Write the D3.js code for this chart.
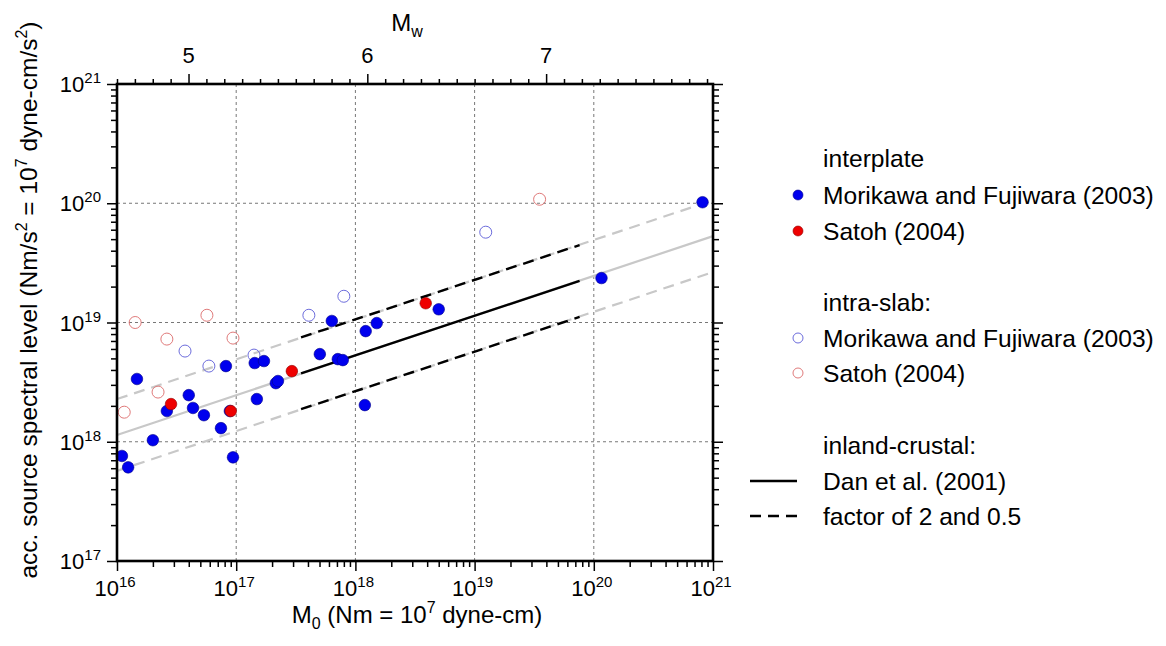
<!DOCTYPE html>
<html>
<head>
<meta charset="utf-8">
<script src="https://cdn.jsdelivr.net/npm/d3@7/dist/d3.min.js"></script>
<style>
  body { margin: 0; background: #fff; }
  svg { font-family: 'Liberation Sans', Arial, sans-serif; }
</style>
</head>
<body>
<div id="graf"></div>
<script>
// Data: [M0 (Nm), acceleration source spectral level (Nm/s^2)]
interplateMorikawa = [
  [1.47e16, 3.36e18], [8.2e16, 4.31e18], [4.0e16, 2.46e18], [2.62e16, 1.81e18],
  [4.34e16, 1.92e18], [5.36e16, 1.67e18], [7.45e16, 1.30e18], [2.0e16, 1.03e18],
  [1.10e16, 7.6e17], [1.24e16, 6.1e17], [9.4e16, 7.4e17], [8.85e16, 1.81e18],
  [1.43e17, 4.57e18], [1.71e17, 4.75e18], [5.03e17, 5.43e18], [7.12e17, 4.93e18],
  [7.84e17, 4.84e18], [2.15e17, 3.10e18], [2.24e17, 3.23e18], [1.49e17, 2.28e18],
  [6.34e17, 1.03e19], [1.22e18, 8.47e18], [1.51e18, 9.89e18], [1.20e18, 2.03e18],
  [5.0e18, 1.29e19], [1.16e20, 2.36e19], [8.17e20, 1.02e20]
]
interplateSatoh = [
  [2.84e16, 2.07e18], [9.0e16, 1.81e18], [2.93e17, 3.91e18], [3.89e18, 1.45e19]
]
slabMorikawa = [
  [3.72e16, 5.76e18], [5.9e16, 4.31e18], [1.41e17, 5.33e18], [4.07e17, 1.15e19],
  [8.0e17, 1.66e19], [1.24e19, 5.72e19]
]
slabSatoh = [
  [1.42e16, 1.0e19], [5.68e16, 1.15e19], [2.62e16, 7.26e18], [9.4e16, 7.4e18],
  [2.21e16, 2.61e18], [1.15e16, 1.77e18], [3.51e19, 1.08e20]
]
// Dan et al. (2001): whole extent (grey) and fitted range (black)
danFull  = [[1e16, 1.14e18], [1e21, 5.3e19]]
danSolid = [[3.5e17, 3.75e18], [7.6e19, 2.23e19]]
factors  = [2, 0.5]

xTicks  = [1e16, 1e17, 1e18, 1e19, 1e20, 1e21]
xLabels = ['16', '17', '18', '19', '20', '21']
yTicks  = [1e17, 1e18, 1e19, 1e20, 1e21]
yLabels = ['17', '18', '19', '20', '21']
mwTicks = [5, 6, 7]

// Layout
ancho_total = 1166
alto_total = 646
margins = { top: 84, left: 117, right: 453, bottom: 85 }
ancho = ancho_total - margins.left - margins.right
alto = alto_total - margins.top - margins.bottom

svg = d3.select('#graf').append('svg')
  .attr('width', ancho_total)
  .attr('height', alto_total)

g = svg.append('g')
  .attr('transform', `translate(${margins.left}, ${margins.top})`)

x = d3.scaleLog().domain([1e16, 1e21]).range([0, ancho])
y = d3.scaleLog().domain([1e17, 1e21]).range([alto, 0])
// Mw = (log10 M0 - 9.1) / 1.5
mw = d3.scaleLinear()
  .domain([(16 - 9.1) / 1.5, (21 - 9.1) / 1.5])
  .range([0, ancho])

isDecade = v => Math.abs(Math.log10(v) - Math.round(Math.log10(v))) < 1e-9
xMinor = x.ticks().filter(v => !isDecade(v))
yMinor = y.ticks().filter(v => !isDecade(v))
mwMinor = d3.range(46, 80).map(v => v / 10).filter(v => v % 1 != 0)

// Grid
grid = g.append('g')
  .attr('stroke', '#777')
  .attr('stroke-width', 1)
  .attr('stroke-dasharray', '3,3')
grid.selectAll('.gx').data(xTicks.slice(1, -1)).join('line')
  .attr('x1', d => x(d)).attr('x2', d => x(d))
  .attr('y1', 0).attr('y2', alto)
grid.selectAll('.gy').data(yTicks.slice(1, -1)).join('line')
  .attr('y1', d => y(d)).attr('y2', d => y(d))
  .attr('x1', 0).attr('x2', ancho)

// Lines
linea = d3.line().x(d => x(d[0])).y(d => y(d[1]))
scaleLine = (pts, f) => pts.map(d => [d[0], d[1] * f])

g.append('path').datum(danFull)
  .attr('d', linea).attr('fill', 'none')
  .attr('stroke', '#c8c8c8').attr('stroke-width', 2.2)
factors.forEach(f => {
  g.append('path').datum(scaleLine(danFull, f))
    .attr('d', linea).attr('fill', 'none')
    .attr('stroke', '#c8c8c8').attr('stroke-width', 2.2)
    .attr('stroke-dasharray', '11,7')
})
g.append('path').datum(danSolid)
  .attr('d', linea).attr('fill', 'none')
  .attr('stroke', '#000').attr('stroke-width', 2.4)
factors.forEach(f => {
  g.append('path').datum(scaleLine(danSolid, f))
    .attr('d', linea).attr('fill', 'none')
    .attr('stroke', '#000').attr('stroke-width', 2.4)
    .attr('stroke-dasharray', '11,7')
})

// Points
function puntos(data, fill, stroke, r, sw) {
  g.append('g').selectAll('circle').data(data).join('circle')
    .attr('cx', d => x(d[0]))
    .attr('cy', d => y(d[1]))
    .attr('r', r)
    .attr('fill', fill)
    .attr('stroke', stroke)
    .attr('stroke-width', sw)
}
puntos(slabSatoh, 'none', '#e07a7a', 6, 1)
puntos(slabMorikawa, 'none', '#6c6cdc', 6, 1)
puntos(interplateMorikawa, '#0000ee', '#00008a', 5.8, 0.6)
puntos(interplateSatoh, '#ee0000', '#900000', 5.8, 0.6)

// Axes (ticks only, labels drawn by hand for superscripts)
function ejes(call, transform) {
  a = g.append('g').attr('transform', transform).call(call)
  a.select('.domain').remove()
  a.selectAll('line').attr('stroke', '#000').attr('stroke-width', 1.5)
  return a
}
ejes(d3.axisBottom(x).tickValues(xTicks).tickSize(10).tickFormat(''), `translate(0, ${alto})`)
ejes(d3.axisBottom(x).tickValues(xMinor).tickSize(6).tickFormat(''), `translate(0, ${alto})`)
ejes(d3.axisLeft(y).tickValues(yTicks).tickSize(10).tickFormat(''), 'translate(0, 0)')
ejes(d3.axisLeft(y).tickValues(yMinor).tickSize(6).tickFormat(''), 'translate(0, 0)')
ejes(d3.axisRight(y).tickValues(yTicks).tickSize(10).tickFormat(''), `translate(${ancho}, 0)`)
ejes(d3.axisRight(y).tickValues(yMinor).tickSize(6).tickFormat(''), `translate(${ancho}, 0)`)
ejes(d3.axisTop(mw).tickValues(mwTicks).tickSize(10).tickFormat(''), 'translate(0, 0)')
ejes(d3.axisTop(mw).tickValues(mwMinor).tickSize(5).tickFormat(''), 'translate(0, 0)')

// Frame
g.append('rect')
  .attr('width', ancho).attr('height', alto)
  .attr('fill', 'none').attr('stroke', '#000').attr('stroke-width', 2.6)

// Tick labels
xTicks.forEach((v, i) => {
  t = g.append('text')
    .attr('x', x(v) - 2).attr('y', alto + 35)
    .attr('text-anchor', 'middle').attr('font-size', 22)
  t.append('tspan').text('10')
  t.append('tspan').attr('dy', -9).attr('font-size', 15).text(xLabels[i])
})
yTicks.forEach((v, i) => {
  t = g.append('text')
    .attr('x', -16).attr('y', y(v) + 8)
    .attr('text-anchor', 'end').attr('font-size', 22)
  t.append('tspan').text('10')
  t.append('tspan').attr('dy', -9).attr('font-size', 15).text(yLabels[i])
})
mwTicks.forEach(v => {
  g.append('text')
    .attr('x', mw(v)).attr('y', -21)
    .attr('text-anchor', 'middle').attr('font-size', 22)
    .text(v)
})

// Axis titles
tx = g.append('text')
  .attr('x', ancho / 2 + 2).attr('y', alto + 62)
  .attr('text-anchor', 'middle').attr('font-size', 24)
tx.append('tspan').text('M')
tx.append('tspan').attr('dy', 6).attr('font-size', 16).text('0')
tx.append('tspan').attr('dy', -6).text(' (Nm = 10')
tx.append('tspan').attr('dy', -10).attr('font-size', 16).text('7')
tx.append('tspan').attr('dy', 10).text(' dyne-cm)')

tt = g.append('text')
  .attr('x', mw(6.2) + 4).attr('y', -53)
  .attr('text-anchor', 'middle').attr('font-size', 24)
tt.append('tspan').text('M')
tt.append('tspan').attr('dy', 6).attr('font-size', 16).text('w')

ty = svg.append('text')
  .attr('transform', 'translate(37, 300) rotate(-90)')
  .attr('text-anchor', 'middle').attr('font-size', 24.5)
ty.append('tspan').text('acc. source spectral level (Nm/s')
ty.append('tspan').attr('dy', -10).attr('font-size', 16).text('2')
ty.append('tspan').attr('dy', 10).text(' = 10')
ty.append('tspan').attr('dy', -10).attr('font-size', 16).text('7')
ty.append('tspan').attr('dy', 10).text(' dyne-cm/s')
ty.append('tspan').attr('dy', -10).attr('font-size', 16).text('2')
ty.append('tspan').attr('dy', 10).text(')')

// Legend
leyenda = svg.append('g').attr('font-size', 24.6)
filas = [
  { y: 158, label: 'interplate' },
  { y: 195, label: 'Morikawa and Fujiwara (2003)', fill: '#0000ee', stroke: '#00008a' },
  { y: 231, label: 'Satoh (2004)', fill: '#ee0000', stroke: '#900000' },
  { y: 302, label: 'intra-slab:' },
  { y: 338, label: 'Morikawa and Fujiwara (2003)', fill: 'none', stroke: '#6c6cdc' },
  { y: 373, label: 'Satoh (2004)', fill: 'none', stroke: '#e07a7a' },
  { y: 445, label: 'inland-crustal:' },
  { y: 481, label: 'Dan et al. (2001)', line: 'none' },
  { y: 516, label: 'factor of 2 and 0.5', line: '11,7' }
]
filas.forEach(f => {
  leyenda.append('text')
    .attr('x', 823).attr('y', f.y + 9)
    .text(f.label)
  if (f.stroke) {
    leyenda.append('circle')
      .attr('cx', 798).attr('cy', f.y).attr('r', 5)
      .attr('fill', f.fill).attr('stroke', f.stroke)
      .attr('stroke-width', f.fill == 'none' ? 1 : 0.6)
  }
  if (f.line) {
    leyenda.append('line')
      .attr('x1', 750).attr('x2', 797)
      .attr('y1', f.y).attr('y2', f.y)
      .attr('stroke', '#000').attr('stroke-width', 2.6)
      .attr('stroke-dasharray', f.line == 'none' ? null : f.line)
  }
})
</script>
</body>
</html>
